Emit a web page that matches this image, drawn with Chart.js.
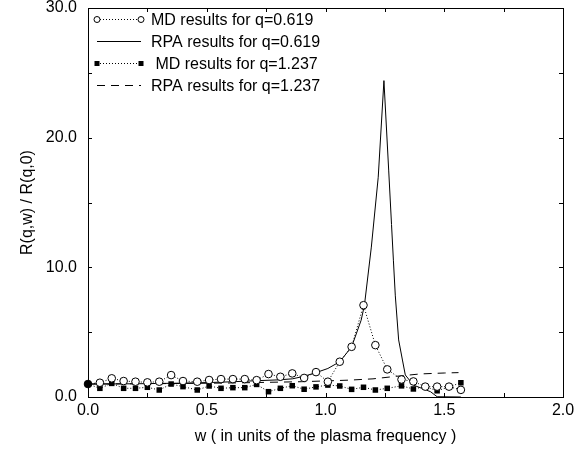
<!DOCTYPE html>
<html><head><meta charset="utf-8">
<script src="https://cdn.jsdelivr.net/npm/chart.js@4/dist/chart.umd.min.js"></script>
<style>html,body{margin:0;padding:0;background:#fff;}canvas{display:block;}</style>
</head><body>
<canvas id="c" width="585" height="449"></canvas>
<script>
// ---- data ----
const wMD = [0.00,0.05,0.10,0.15,0.20,0.25,0.30,0.35,0.40,0.46,0.51,0.56,0.61,0.66,0.71,0.76,0.81,0.86,0.91,0.96,1.01,1.06,1.11,1.16,1.21,1.26,1.32,1.37,1.42,1.47,1.52,1.57];
const mdQ1 = [1.0,1.1,1.44,1.23,1.18,1.13,1.18,1.69,1.23,1.18,1.31,1.38,1.38,1.38,1.3,1.77,1.56,1.82,1.47,1.92,1.18,2.72,3.87,7.08,4.0,2.13,1.35,1.2,0.8,0.8,0.8,0.55];
const mdQ2 = [1.0,0.67,1.05,0.67,0.67,0.75,0.54,1.0,0.8,0.54,0.85,0.67,0.72,0.72,0.97,0.41,0.67,0.87,0.6,0.78,0.92,0.85,0.59,0.75,0.54,0.67,0.86,0.62,0.8,0.48,0.78,1.1];
const wRPA1 = [0,0.2,0.4,0.5,0.6,0.7,0.8,0.86,0.91,0.96,1.01,1.06,1.11,1.15,1.164,1.193,1.222,1.246,1.266,1.278,1.286,1.294,1.308,1.324,1.336,1.37,1.442,1.47,1.57];
const rpaQ1 = [1.0,1.02,1.07,1.11,1.17,1.25,1.32,1.4,1.6,1.88,2.2,2.72,3.87,5.92,7.08,11.56,16.95,24.4,17.5,13.3,10.5,7.8,4.4,2.85,1.7,0.92,0.41,0.02,0];
const wRPA2 = [0,0.3,0.6,0.9,1.1,1.2,1.3,1.4,1.5,1.56];
const rpaQ2 = [1.0,1.03,1.08,1.18,1.3,1.4,1.6,1.78,1.85,1.88];
const seriesNames = ['MD results for q=0.619','RPA results for q=0.619',' MD results for q=1.237','RPA results for q=1.237'];
const xTickLabels = {0:'0.0',0.5:'0.5',1:'1.0',1.5:'1.5',2:'2.0'};
const yTickLabels = {0:'0.0',10:'10.0',20:'20.0',30:'30.0'};
const xTitle = 'w ( in units of the plasma frequency )';
const yTitle = 'R(q,w) / R(q,0)';

const pts = (xs, ys) => xs.map((x, i) => ({x: x, y: ys[i]}));
const FONT = 'Liberation Sans, Arial, Helvetica, sans-serif';

const frame = {
  id: 'frame',
  afterDatasetsDraw(chart) {
    const {ctx, chartArea: a, scales: {x, y}} = chart;
    ctx.save();
    ctx.strokeStyle = '#000';
    ctx.lineWidth = 1;
    ctx.strokeRect(a.left + 0.5, a.top + 0.5, a.right - a.left, a.bottom - a.top);
    ctx.beginPath();
    const L = 4;
    x.ticks.forEach(t => {
      const p = Math.round(x.getPixelForValue(t.value)) + 0.5;
      ctx.moveTo(p, a.bottom); ctx.lineTo(p, a.bottom - L);
      ctx.moveTo(p, a.top); ctx.lineTo(p, a.top + L);
    });
    y.ticks.forEach(t => {
      const p = Math.round(y.getPixelForValue(t.value)) + 0.5;
      ctx.moveTo(a.left, p); ctx.lineTo(a.left + L, p);
      ctx.moveTo(a.right, p); ctx.lineTo(a.right - L, p);
    });
    ctx.stroke();
    ctx.restore();
  },
  afterDraw(chart) {
    const ctx = chart.ctx;
    ctx.save();
    ctx.fillStyle = '#000';
    ctx.strokeStyle = '#000';
    ctx.lineWidth = 1;
    ctx.font = '16px ' + FONT;
    ctx.textBaseline = 'middle';
    const x0 = 97, x1 = 141, tx = 151;
    chart.data.datasets.forEach((ds, i) => {
      const yy = 19.5 + 22 * i;
      ctx.setLineDash(ds.borderDash || []);
      ctx.beginPath(); ctx.moveTo(x0, yy); ctx.lineTo(x1, yy); ctx.stroke();
      ctx.setLineDash([]);
      if (ds.pointStyle === 'circle') {
        [x0, x1].forEach(px => { ctx.beginPath(); ctx.arc(px, yy, 3, 0, Math.PI * 2); ctx.fillStyle = '#fff'; ctx.fill(); ctx.stroke(); });
      } else if (ds.pointStyle === 'rect') {
        ctx.fillStyle = '#000';
        [x0, x1].forEach(px => ctx.fillRect(px - 2.5, yy - 2.5, 5, 5));
      }
      ctx.fillStyle = '#000';
      ctx.fillText(ds.label, tx, yy + 1);
    });
    ctx.restore();
  }
};

new Chart(document.getElementById('c'), {
  type: 'scatter',
  data: {
    datasets: [
      { label: seriesNames[0], data: pts(wMD, mdQ1), showLine: true, borderColor: '#000', borderWidth: 1, borderDash: [1, 2],
        pointStyle: 'circle', pointRadius: 3.8, pointBorderWidth: 1, pointBorderColor: '#000',
        pointBackgroundColor: mdQ1.map((v, i) => i === 0 ? '#000' : '#fff'), clip: false },
      { label: seriesNames[1], data: pts(wRPA1, rpaQ1), showLine: true, borderColor: '#000', borderWidth: 1, pointRadius: 0, clip: false },
      { label: seriesNames[2], data: pts(wMD, mdQ2), showLine: true, borderColor: '#000', borderWidth: 1, borderDash: [1, 2],
        pointStyle: 'rect', pointRadius: 3.9, pointBorderWidth: 0, pointBackgroundColor: '#000', clip: false },
      { label: seriesNames[3], data: pts(wRPA2, rpaQ2), showLine: true, borderColor: '#000', borderWidth: 1, borderDash: [8, 6], pointRadius: 0, clip: false }
    ]
  },
  options: {
    responsive: false, animation: false, devicePixelRatio: 1,
    layout: { padding: { left: 0, top: 8, right: 22, bottom: 0 } },
    plugins: { legend: { display: false }, tooltip: { enabled: false } },
    scales: {
      x: {
        type: 'linear', min: 0, max: 2,
        grid: { display: false, drawTicks: false }, border: { display: false },
        ticks: { stepSize: 0.25, autoSkip: false, maxRotation: 0, color: '#000', padding: 3.5,
          font: { family: FONT, size: 16 }, callback: v => xTickLabels[v] !== undefined ? xTickLabels[v] : '' },
        title: { display: true, text: xTitle, color: '#000', font: { family: FONT, size: 16 }, padding: { top: 0, bottom: 2.5 } },
        afterFit: s => { s.height = 52; s.paddingLeft = 0; s.paddingRight = 0; }
      },
      y: {
        type: 'linear', min: 0, max: 30,
        grid: { display: false, drawTicks: false }, border: { display: false },
        ticks: { stepSize: 5, autoSkip: false, color: '#000', padding: 11,
          font: { family: FONT, size: 16 }, callback: v => yTickLabels[v] !== undefined ? yTickLabels[v] : '' },
        title: { display: true, text: yTitle, color: '#000', font: { family: FONT, size: 16 }, padding: { top: 17.5, bottom: 0 } },
        afterFit: s => { s.width = 88; s.paddingTop = 0; s.paddingBottom = 0; }
      }
    }
  },
  plugins: [frame]
});
</script>
</body></html>
